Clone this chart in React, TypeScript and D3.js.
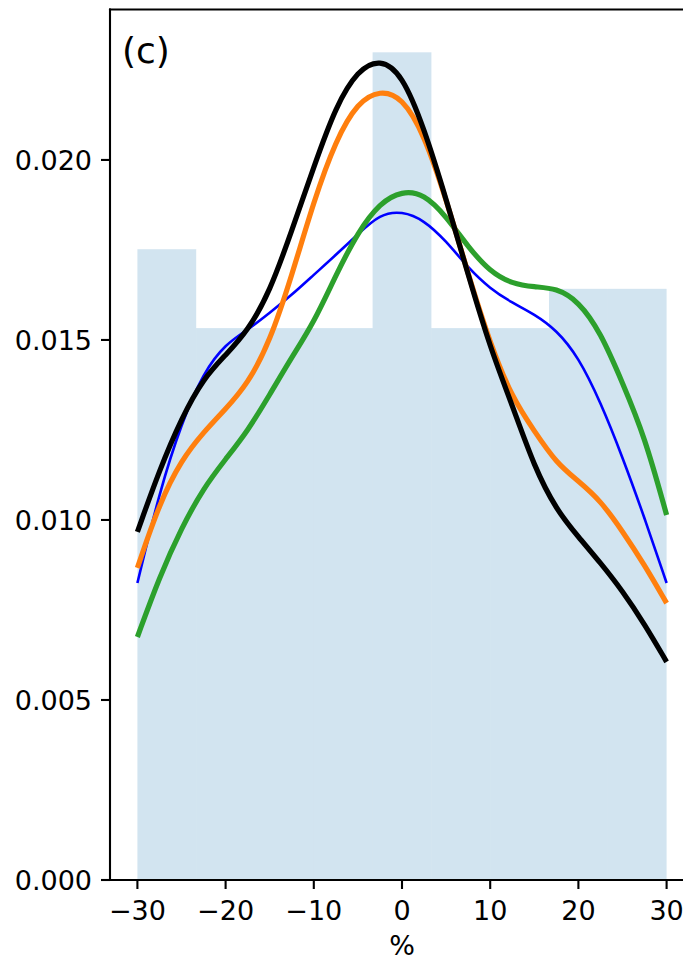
import React from "react";
import * as d3 from "d3";

// histogram (density) – bin edges and heights
const binEdges = [-30, -23.333, -16.667, -10, -3.333, 3.333, 10, 16.667, 23.333, 30];
const binDensity = [0.01752, 0.01533, 0.01533, 0.01533, 0.02299, 0.01533, 0.01533, 0.01642, 0.01642];

// kde curves
const gridX = [-30, -27.5, -25, -22.5, -20, -17.5, -15, -12.5, -10, -7.5, -5, -2.5, 0, 2.5, 5, 7.5, 10, 12.5, 15, 17.5, 20, 22.5, 25, 27.5, 30];
const blueKde = [0.00825, 0.01078, 0.01269, 0.01411, 0.01489, 0.01528, 0.01575, 0.01625, 0.01681, 0.01736, 0.01794, 0.0185, 0.01858, 0.01833, 0.01775, 0.017, 0.01642, 0.01603, 0.01572, 0.01528, 0.01453, 0.01328, 0.01175, 0.01006, 0.00825];
const greenKde = [0.00675, 0.00842, 0.00978, 0.01089, 0.01169, 0.01247, 0.01348, 0.01452, 0.01548, 0.0168, 0.018, 0.01881, 0.01914, 0.01906, 0.01844, 0.01758, 0.01689, 0.01656, 0.01647, 0.01644, 0.01608, 0.01522, 0.01381, 0.01233, 0.01014];
const orangeKde = [0.00867, 0.01047, 0.01167, 0.01244, 0.01308, 0.01378, 0.01494, 0.01678, 0.01886, 0.02056, 0.02161, 0.02194, 0.02175, 0.02072, 0.01892, 0.01683, 0.01489, 0.01339, 0.01247, 0.01158, 0.01108, 0.01054, 0.00969, 0.00875, 0.00769];
const blackKde = [0.00967, 0.01139, 0.01283, 0.01394, 0.01458, 0.01525, 0.01633, 0.01803, 0.01981, 0.0215, 0.0225, 0.02281, 0.02239, 0.02089, 0.01892, 0.01681, 0.01478, 0.01319, 0.01147, 0.01028, 0.00953, 0.00881, 0.00803, 0.00711, 0.00606];

const xTicks = [-30, -20, -10, 0, 10, 20, 30];
const yTicks = [0, 0.005, 0.01, 0.015, 0.02];
const panelLabel = "(c)";
const xLabel = "%";

const FONT = "DejaVu Sans, sans-serif";
const FS = 27;
const TICK = 9;

export default function App() {
  const left = 110;
  const right = 682;
  const top = 9.5;
  const bottom = 880;

  const x = d3.scaleLinear().domain([-33.107, 31.746]).range([left, right]);
  const y = d3.scaleLinear().domain([0, 0.024179]).range([bottom, top]);

  // basis spline smooths out the reading noise of the sampled points
  const line = d3
    .line<number>()
    .x((_, i) => x(gridX[i]))
    .y((d) => y(d))
    .curve(d3.curveBasis);

  const series = [
    { data: blueKde, color: "#0000ff", width: 2.6 },
    { data: greenKde, color: "#2ca02c", width: 5.2 },
    { data: orangeKde, color: "#ff7f0e", width: 5.2 },
    { data: blackKde, color: "#000000", width: 5.2 },
  ];

  const fmt = (v: number) => (v < 0 ? "\u2212" + Math.abs(v) : String(v));

  return (
    <div style={{ position: "absolute", left: 0, top: 0 }}>
      <svg width={683} height={960} style={{ display: "block", background: "#fff" }}>
        {/* histogram */}
        <g>
          {binDensity.map((d, i) => (
            <rect
              key={i}
              x={x(binEdges[i])}
              y={y(d)}
              width={x(binEdges[i + 1]) - x(binEdges[i])}
              height={y(0) - y(d)}
              fill="#1f77b4"
              fillOpacity={0.2}
            />
          ))}
        </g>

        {/* kde lines */}
        {series.map((s, i) => (
          <path
            key={i}
            d={line(s.data) ?? ""}
            fill="none"
            stroke={s.color}
            strokeWidth={s.width}
            strokeLinejoin="round"
          />
        ))}

        {/* spines */}
        <line x1={left} x2={left} y1={top} y2={bottom} stroke="#000" strokeWidth={2.1} strokeLinecap="square" />
        <line x1={left} x2={683} y1={bottom} y2={bottom} stroke="#000" strokeWidth={2.1} strokeLinecap="square" />
        <line x1={left} x2={683} y1={top} y2={top} stroke="#000" strokeWidth={2.1} strokeLinecap="square" />

        {/* x axis */}
        {xTicks.map((t) => (
          <g key={t} transform={`translate(${x(t)},0)`}>
            <line y1={bottom} y2={bottom + TICK} stroke="#000" strokeWidth={2.1} />
            <text y={920} textAnchor="middle" fontFamily={FONT} fontSize={FS} fill="#000">
              {fmt(t)}
            </text>
          </g>
        ))}
        <text x={x(0)} y={955} textAnchor="middle" fontFamily={FONT} fontSize={FS} fill="#000">
          {xLabel}
        </text>

        {/* y axis */}
        {yTicks.map((t) => (
          <g key={t} transform={`translate(0,${y(t)})`}>
            <line x1={left - TICK} x2={left} stroke="#000" strokeWidth={2.1} />
            <text x={left - TICK - 9} y={FS * 0.36} textAnchor="end" fontFamily={FONT} fontSize={FS} fill="#000">
              {d3.format(".3f")(t)}
            </text>
          </g>
        ))}

        <text x={122} y={63} fontFamily={FONT} fontSize={36} fill="#000">
          {panelLabel}
        </text>
      </svg>
    </div>
  );
}
